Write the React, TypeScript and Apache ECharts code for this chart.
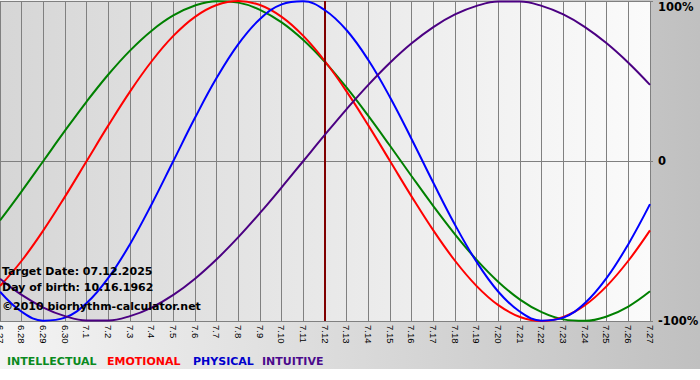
import React, { useEffect, useRef } from 'react';
import * as echarts from 'echarts';

const days = ['6.27', '6.28', '6.29', '6.30', '7.1', '7.2', '7.3', '7.4', '7.5', '7.6', '7.7', '7.8', '7.9', '7.10', '7.11', '7.12', '7.13', '7.14', '7.15', '7.16', '7.17', '7.18', '7.19', '7.20', '7.21', '7.22', '7.23', '7.24', '7.25', '7.26', '7.27'];

const intellectual = [-0.3717, -0.1893, 0, 0.1893, 0.3717, 0.5406, 0.6901, 0.8146, 0.9096, 0.9718, 0.9989, 0.9898, 0.945, 0.866, 0.7557, 0.6182, 0.4582, 0.2817, 0.0951, -0.0951, -0.2817, -0.4582, -0.6182, -0.7557, -0.866, -0.945, -0.9898, -0.9989, -0.9718, -0.9096, -0.8146];
const emotional = [-0.7818, -0.6235, -0.4339, -0.2225, 0, 0.2225, 0.4339, 0.6235, 0.7818, 0.901, 0.9749, 1, 0.9749, 0.901, 0.7818, 0.6235, 0.4339, 0.2225, 0, -0.2225, -0.4339, -0.6235, -0.7818, -0.901, -0.9749, -1, -0.9749, -0.901, -0.7818, -0.6235, -0.4339];
const physical = [-0.817, -0.9423, -0.9977, -0.9791, -0.8879, -0.7308, -0.5196, -0.2698, 0, 0.2698, 0.5196, 0.7308, 0.8879, 0.9791, 0.9977, 0.9423, 0.817, 0.6311, 0.3984, 0.1362, -0.1362, -0.3984, -0.6311, -0.817, -0.9423, -0.9977, -0.9791, -0.8879, -0.7308, -0.5196, -0.2698];
const intuitive = [-0.7357, -0.8372, -0.9158, -0.9694, -0.9966, -0.9966, -0.9694, -0.9158, -0.8372, -0.7357, -0.6142, -0.4759, -0.3247, -0.1646, 0, 0.1646, 0.3247, 0.4759, 0.6142, 0.7357, 0.8372, 0.9158, 0.9694, 0.9966, 0.9966, 0.9694, 0.9158, 0.8372, 0.7357, 0.6142, 0.4759];

const seriesNames = ['INTELLECTUAL', 'EMOTIONAL', 'PHYSICAL', 'INTUITIVE'];
const lineColors = ['#008000', '#ff0000', '#0000ff', '#4b0082'];
const legendColors = ['#0a8a1e', '#ff0000', '#0000cc', '#4b0a8c'];
const legendX = [7, 107, 193, 262];
const targetDay = '7.12';
const infoLines = ['Target Date: 07.12.2025', 'Day of birth: 10.16.1962', '\u00a92010 biorhythm-calculator.net'];
const infoY = [271, 287, 306];
const yLabels: Record<string, string> = { '1': '100%', '0': '0', '-1': '-100%' };

export default function App() {
  const ref = useRef<HTMLDivElement>(null);
  useEffect(() => {
    document.body.style.margin = '0';
    const chart = echarts.init(ref.current!, null, { renderer: 'svg' });
    const data = [intellectual, emotional, physical, intuitive];
    const option: any = {
      animation: false,
      backgroundColor: 'transparent',
      grid: {
        left: 0,
        right: 50,
        top: 1,
        bottom: 59,
        outerBoundsMode: 'none',
        containLabel: false,
        show: true,
        borderWidth: 0,
        backgroundColor: new echarts.graphic.LinearGradient(0, 0, 1, 0, [
          { offset: 0, color: '#d6d6d6' },
          { offset: 1, color: '#fbfbfb' },
        ]),
      },
      xAxis: {
        type: 'category',
        data: days,
        boundaryGap: false,
        axisLine: { show: true, lineStyle: { color: '#808080', width: 1 } },
        axisTick: { show: true, length: 3, interval: 0, lineStyle: { color: '#808080' } },
        splitLine: { show: true, interval: 0, lineStyle: { color: '#808080', width: 1 } },
        axisLabel: {
          interval: 0,
          rotate: -90,
          margin: 4,
          color: '#000',
          fontFamily: 'Liberation Sans',
          fontSize: 9.5,
          hideOverlap: false,
        },
      },
      yAxis: {
        type: 'value',
        position: 'right',
        min: -1,
        max: 1,
        interval: 1,
        axisLine: { show: false },
        axisTick: { show: true, length: 3, lineStyle: { color: '#808080' } },
        splitLine: { show: true, lineStyle: { color: '#808080', width: 1 } },
        axisLabel: {
          margin: 8,
          color: '#000',
          fontFamily: 'DejaVu Sans',
          fontWeight: 'bold',
          fontSize: 11.5,
          formatter: (v: number) => (v === 1 ? '{top|' + yLabels['1'] + '}' : yLabels[String(v)]),
          rich: {
            top: {
              fontFamily: 'DejaVu Sans',
              fontWeight: 'bold',
              fontSize: 11.5,
              color: '#000',
              padding: [12, 0, 0, 0],
            },
          },
        },
      },
      series: data.map((d, i) => ({
        name: seriesNames[i],
        type: 'line',
        data: d,
        smooth: 0.4,
        symbol: 'none',
        lineStyle: { color: lineColors[i], width: 2 },
        z: 3 + i,
        ...(i === 3
          ? {
              markLine: {
                silent: true,
                symbol: 'none',
                label: { show: false },
                lineStyle: { color: '#800000', width: 2, type: 'solid' },
                data: [{ xAxis: targetDay }],
              },
            }
          : {}),
      })),
      graphic: [
        ...infoLines.map((t, i) => ({
          type: 'text',
          x: 2,
          y: infoY[i],
          z: 100,
          style: {
            text: t,
            fill: '#000',
            font: 'bold 11px "DejaVu Sans"',
            verticalAlign: 'middle',
          },
        })),
        ...seriesNames.map((n, i) => ({
          type: 'text',
          x: legendX[i],
          y: 361,
          z: 100,
          style: {
            text: n,
            fill: legendColors[i],
            font: 'bold 11px "DejaVu Sans"',
            verticalAlign: 'middle',
          },
        })),
      ],
    };
    chart.setOption(option);
    return () => chart.dispose();
  }, []);
  return (
    <div style={{ position: 'relative', width: 700, height: 380, background: '#fff' }}>
      <div
        style={{
          position: 'absolute',
          left: 0,
          top: 0,
          width: 700,
          height: 369,
          background: 'linear-gradient(to right, #f4f4f4, #c0c0c0)',
        }}
      />
      <div ref={ref} style={{ position: 'absolute', left: 0, top: 0, width: 700, height: 380 }} />
    </div>
  );
}
